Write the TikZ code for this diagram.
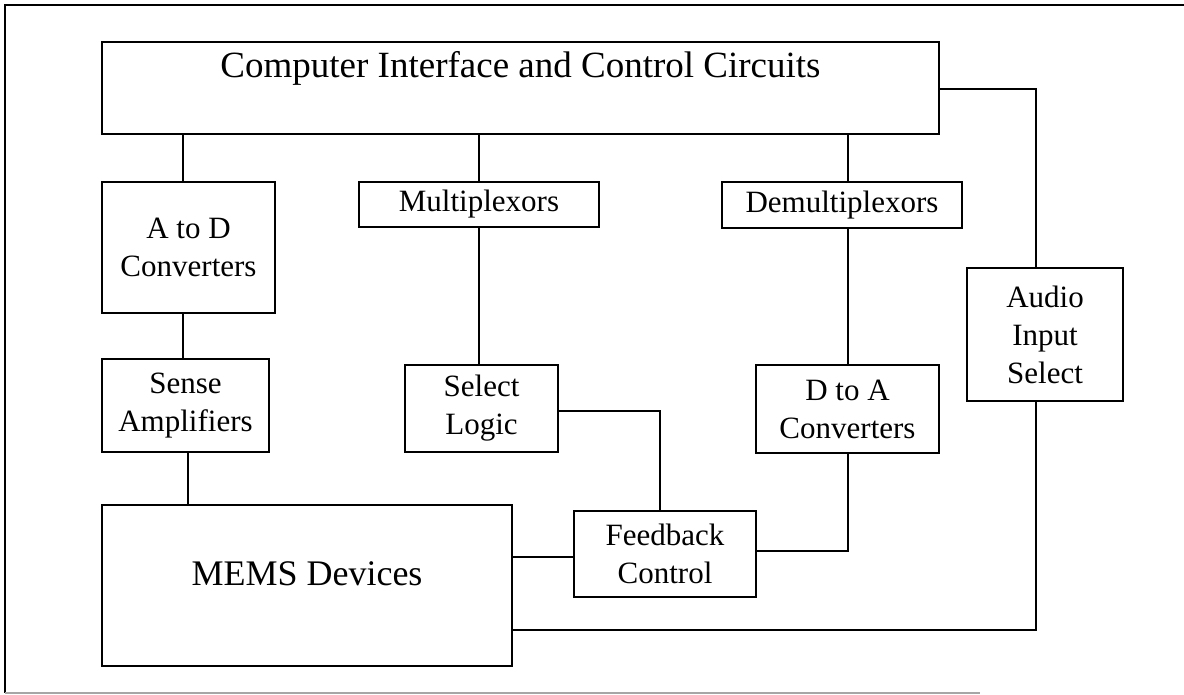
\documentclass[tikz,border=0pt]{standalone}
\usepackage{fontspec}
\setmainfont{Liberation Serif}
\begin{document}
\begin{tikzpicture}[x=1pt,y=-1pt,
  blk/.style={draw,line width=2.2pt,inner sep=0pt,align=center,
    font=\fontsize{31}{38}\selectfont},
  wire/.style={line width=2.1pt}]
\useasboundingbox (0,0) rectangle (1184,695);
% outer frame
\draw[line width=2pt] (1184,5) -- (5,5) -- (5,693);
\draw[line width=1.5pt,black!35] (5,693) -- (980,693);
% blocks
\node[blk,minimum width=837pt,minimum height=92pt,text height=36pt,text depth=56pt,
  font=\fontsize{37}{44}\selectfont] (ci) at (520.5,88) {Computer Interface and Control Circuits};
\node[blk,minimum width=173pt,minimum height=131pt] (ad) at (188.5,247.5) {A to D\\Converters};
\node[blk,minimum width=240pt,minimum height=45pt] (mux) at (479,204.5) {Multiplexors};
\node[blk,minimum width=240pt,minimum height=46pt] (demux) at (842,205) {Demultiplexors};
\node[blk,minimum width=156pt,minimum height=133pt] (audio) at (1045,334.5) {Audio\\Input\\Select};
\node[blk,minimum width=167pt,minimum height=93pt] (sense) at (185.5,405.5) {Sense\\Amplifiers};
\node[blk,minimum width=153pt,minimum height=87pt] (sel) at (481.5,408.5) {Select\\Logic};
\node[blk,minimum width=183pt,minimum height=88pt] (da) at (847.5,409) {D to A\\Converters};
\node[blk,minimum width=410pt,minimum height=161pt,text height=80pt,text depth=81pt,
  font=\fontsize{36}{43}\selectfont] (mems) at (307,585.5) {MEMS Devices};
\node[blk,minimum width=182pt,minimum height=86pt] (fb) at (665,554) {Feedback\\Control};
% helper coordinates
\coordinate (xa) at (183,0);
\coordinate (xs) at (188,0);
\coordinate (xm) at (479,0);
\coordinate (xd) at (848,0);
\coordinate (xau) at (1036,0);
\coordinate (xf) at (660,0);
\coordinate (yci) at (0,89);
\coordinate (ysel) at (0,411);
\coordinate (yfb) at (0,551);
\coordinate (ymf) at (0,557);
\coordinate (ybot) at (0,630);
% connectors
\draw[wire] (ci.south -| xa) -- (ad.north -| xa);
\draw[wire] (ad.south -| xa) -- (sense.north -| xa);
\draw[wire] (sense.south -| xs) -- (mems.north -| xs);
\draw[wire] (ci.south -| xm) -- (mux.north -| xm);
\draw[wire] (mux.south -| xm) -- (sel.north -| xm);
\draw[wire] (ci.south -| xd) -- (demux.north -| xd);
\draw[wire] (demux.south -| xd) -- (da.north -| xd);
\draw[wire] (ci.east |- yci) -| (audio.north -| xau);
\draw[wire] (audio.south -| xau) |- (mems.east |- ybot);
\draw[wire] (sel.east |- ysel) -| (fb.north -| xf);
\draw[wire] (fb.east |- yfb) -| (da.south -| xd);
\draw[wire] (mems.east |- ymf) -- (fb.west |- ymf);
\end{tikzpicture}
\end{document}
